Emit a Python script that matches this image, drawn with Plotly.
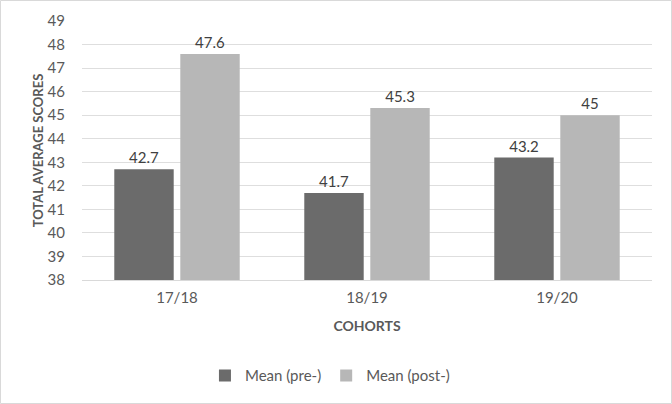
import plotly.graph_objects as go

cohorts = ["17/18", "18/19", "19/20"]
mean_pre = [42.7, 41.7, 43.2]
mean_post = [47.6, 45.3, 45.0]
pre_labels = ["42.7", "41.7", "43.2"]
post_labels = ["47.6", "45.3", "45"]
y_ticks = list(range(38, 50))

FONT = "Lato, Carlito, 'Open Sans', sans-serif"
TXT = "#595959"

fig = go.Figure()
fig.add_trace(go.Bar(
    x=cohorts, y=mean_pre, name="Mean (pre-)",
    marker=dict(color="#6b6b6b", line=dict(width=0)),
    text=pre_labels, textposition="outside", cliponaxis=False,
    textfont=dict(size=15, color="#404040", family=FONT),
))
fig.add_trace(go.Bar(
    x=cohorts, y=mean_post, name="Mean (post-)",
    marker=dict(color="#b7b7b7", line=dict(width=0)),
    text=post_labels, textposition="outside", cliponaxis=False,
    textfont=dict(size=15, color="#404040", family=FONT),
))

fig.update_layout(
    width=672, height=404,
    margin=dict(l=82, r=20, t=21, b=124),
    paper_bgcolor="white", plot_bgcolor="white",
    barmode="group", bargap=0.305, bargroupgap=0.1,
    font=dict(family=FONT, color=TXT, size=15),
    showlegend=True,
    legend=dict(orientation="h", x=0.435, xanchor="center", y=-0.37, yanchor="middle",
                font=dict(size=15, color=TXT), traceorder="normal",
                itemwidth=30),
    shapes=[dict(type="rect", xref="paper", yref="paper",
                 x0=-81.5/570, x1=1+19.5/570, y0=-123.5/259, y1=1+20.5/259,
                 line=dict(color="#d9d9d9", width=1))],
)
fig.update_yaxes(
    range=[38, 49], tickvals=y_ticks, showgrid=True, gridcolor="#dedede", gridwidth=1,
    zeroline=False, showline=False, ticks="", ticklabelstandoff=16, automargin=False,
    tickfont=dict(size=15, color=TXT),
    title=dict(text="<b>TOTAL AVERAGE SCORES</b>", font=dict(size=13, color=TXT), standoff=1),
)
fig.update_xaxes(
    showline=True, linecolor="#d9d9d9", linewidth=1, ticks="", ticklabelstandoff=4,
    automargin=False,
    tickfont=dict(size=15, color=TXT),
    title=dict(text="<b>COHORTS</b>", font=dict(size=14, color=TXT), standoff=16),
)

fig.write_html("out.html", config={"displayModeBar": False},
               post_script="document.body.style.margin='0';document.body.style.overflow='hidden';")
